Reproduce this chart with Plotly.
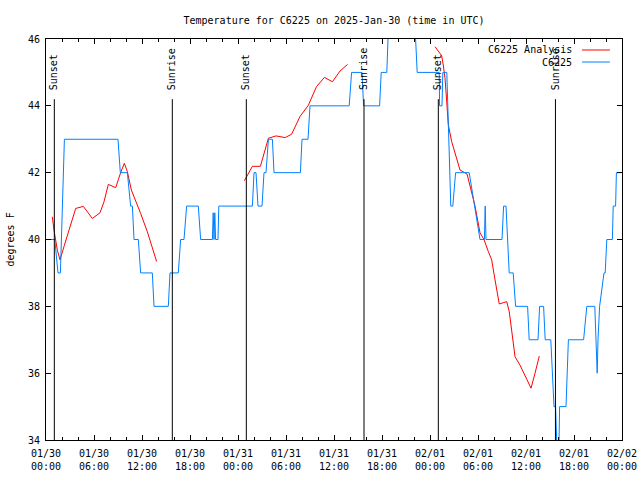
import plotly.graph_objects as go

title_text = "Temperature for C6225 on 2025-Jan-30 (time in UTC)"
y_label = "degrees F"
obs_name = "C6225"
ana_name = "C6225 Analysis"

# hours since 2025-01-30 00:00 UTC
obs_hours = [0.0, 1.1, 1.5, 1.8, 2.3, 9.0, 9.29, 10.17, 10.58, 10.8, 11.0, 11.54, 11.83, 13.29,
             13.5, 15.29, 15.5, 16.54, 16.83, 17.25, 17.58, 19.04, 19.33, 20.8, 20.9, 21.0,
             21.1, 21.2, 21.5, 21.6, 25.8, 26.0, 26.25, 26.5, 27.0, 27.25, 27.5, 27.8, 28.3,
             28.5, 31.8, 32.0, 32.75, 33.0, 37.9, 38.2, 39.5, 39.7, 41.7, 41.9, 42.6, 42.9,
             46.0, 46.4, 49.15, 49.2, 49.5, 49.6, 50.1, 50.6, 50.85, 51.2, 52.9, 54.25, 54.8,
             54.9, 55.0, 57.0, 57.2, 57.5, 57.9, 58.4, 58.7, 60.2, 60.4, 61.5, 61.7, 62.2,
             62.4, 63.1, 63.5, 63.7, 63.9, 64.1, 64.2, 65.0, 65.3, 67.2, 67.6, 68.6, 68.9,
             69.0, 69.2, 69.75, 69.9, 70.1, 70.8, 70.9, 71.2, 71.3, 71.9]
obs_temps = [40, 40, 39, 39, 43, 43, 42, 42, 41, 41, 40, 40, 39, 39,
             38, 38, 39, 39, 40, 40, 41, 41, 40, 40, 40.8, 40,
             40.8, 40, 40, 41, 41, 42, 42, 41, 41, 42, 42, 43, 43,
             42, 42, 43, 43, 44, 44, 45, 45, 44, 44, 45, 45, 47,
             47, 45, 45, 44, 44, 45, 45, 41, 41, 42, 42, 40, 40,
             41, 40, 40, 41, 41, 39, 39, 38, 38, 37, 37, 38, 38,
             37, 37, 35, 35, 33.5, 33.5, 35, 35, 37, 37, 38, 38, 36,
             37, 38, 39, 39, 40, 40, 41, 41, 42, 42]

ana_hours = [0.79, 1.0, 1.42, 1.75, 2.25, 2.875, 3.71, 4.67, 4.96, 5.79, 6.75, 7.25, 7.79,
             8.71, 9.33, 9.79, 10.17, 10.67, 11.83, 12.67, 13.83, None,
             24.8, 25.8, 26.8, 27.8, 28.75, 29.9, 30.7, 31.75, 32.8, 33.8, 34.8, 35.8,
             36.75, 37.7, None,
             48.63, 49.46, 49.66, 49.88, 50.09, 50.29, 50.71, 51.34, 51.75, 52.63, 53.63,
             54.25, 54.75, 55.29, 55.71, 56.13, 56.41, 56.66, 57.16, 57.59, 57.91, 58.21,
             58.63, 59.25, 59.88, 60.63, 61.13, 61.66]
ana_temps = [40.68, 40.28, 39.68, 39.39, 39.79, 40.28, 40.93, 40.99, 40.9, 40.63, 40.8, 41.13,
             41.65, 41.55, 42.0, 42.28, 42.03, 41.48, 40.78, 40.23, 39.34, None,
             41.76, 42.19, 42.19, 43.03, 43.1, 43.05, 43.15, 43.68, 44.02, 44.57, 44.85,
             44.72, 45.04, 45.24, None,
             45.77, 45.5, 45.22, 44.82, 44.12, 43.43, 42.93, 42.43, 42.08, 41.96, 41.0,
             40.2, 40.0, 39.64, 39.39, 38.79, 38.44, 38.07, 38.11, 38.14, 37.84, 37.29,
             36.49, 36.24, 35.94, 35.55, 36.0, 36.51]

event_hours = [1.04, 15.79, 25.04, 39.75, 49.04, 63.68]
event_labels = ["Sunset", "Sunrise", "Sunset", "Sunrise", "Sunset", "Sunrise"]

tick_hours = [0, 6, 12, 18, 24, 30, 36, 42, 48, 54, 60, 66, 72]
tick_labels = ["01/30<br>00:00", "01/30<br>06:00", "01/30<br>12:00", "01/30<br>18:00",
               "01/31<br>00:00", "01/31<br>06:00", "01/31<br>12:00", "01/31<br>18:00",
               "02/01<br>00:00", "02/01<br>06:00", "02/01<br>12:00", "02/01<br>18:00",
               "02/02<br>00:00"]

FONT = "DejaVu Sans Mono"
RED = "#ff0000"
BLUE = "#0080ff"

fig = go.Figure()
fig.add_trace(go.Scatter(x=ana_hours, y=ana_temps, mode="lines", name=ana_name,
                         line=dict(color=RED, width=1), showlegend=False))
fig.add_trace(go.Scatter(x=obs_hours, y=obs_temps, mode="lines", name=obs_name,
                         line=dict(color=BLUE, width=1), showlegend=False))

shapes = []
annotations = []
for h, lab in zip(event_hours, event_labels):
    shapes.append(dict(type="line", xref="x", yref="paper", x0=h, x1=h, y0=0, y1=0.85,
                       line=dict(color="black", width=1)))
    annotations.append(dict(text=lab, x=h, xref="x", y=0.868, yref="paper", textangle=-90,
                            showarrow=False, xanchor="center", yanchor="bottom",
                            font=dict(family=FONT, size=10, color="black")))

# legend (gnuplot style: text then line sample)
for i, (name, col) in enumerate([(ana_name, RED), (obs_name, BLUE)]):
    yp = 0.9726 - i * 0.030
    annotations.append(dict(text=name, x=0.9167, xref="paper", y=yp, yref="paper",
                            showarrow=False, xanchor="right", yanchor="middle",
                            font=dict(family=FONT, size=10, color="black")))
    shapes.append(dict(type="line", xref="paper", yref="paper", x0=0.9306, x1=0.979,
                       y0=yp, y1=yp, line=dict(color=col, width=1)))

annotations.append(dict(text=y_label, x=-0.0625, xref="paper", y=0.5, yref="paper",
                        textangle=-90, showarrow=False, xanchor="center", yanchor="middle",
                        font=dict(family=FONT, size=10, color="black")))

fig.update_layout(
    width=640, height=480,
    margin=dict(l=46, r=18, t=39, b=40, autoexpand=False),
    paper_bgcolor="white", plot_bgcolor="white",
    font=dict(family=FONT, size=10, color="black"),
    title=dict(text=title_text, x=0.5, xref="paper", y=1 - 20 / 480, yref="container",
               xanchor="center", yanchor="middle", font=dict(family=FONT, size=10)),
    shapes=shapes, annotations=annotations, showlegend=False,
)
fig.update_xaxes(range=[0, 72], tickvals=tick_hours, ticktext=tick_labels,
                 ticks="inside", ticklen=5, tickcolor="black", tickwidth=1,
                 ticklabelstandoff=4, automargin=False,
                 showline=True, linecolor="black", linewidth=1, mirror="ticks",
                 showgrid=False, zeroline=False,
                 minor=dict(dtick=2, tick0=0, ticks="inside", ticklen=3, tickcolor="black",
                            showgrid=False))
fig.update_yaxes(range=[34, 46], dtick=2, tick0=34, ticks="inside", ticklen=5,
                 tickcolor="black", tickwidth=1, ticklabelstandoff=3, automargin=False,
                 showline=True, linecolor="black",
                 linewidth=1, mirror="ticks", showgrid=False, zeroline=False)

fig.write_html("out.html", config={"displayModeBar": False},
               post_script="document.body.style.margin='0';")
